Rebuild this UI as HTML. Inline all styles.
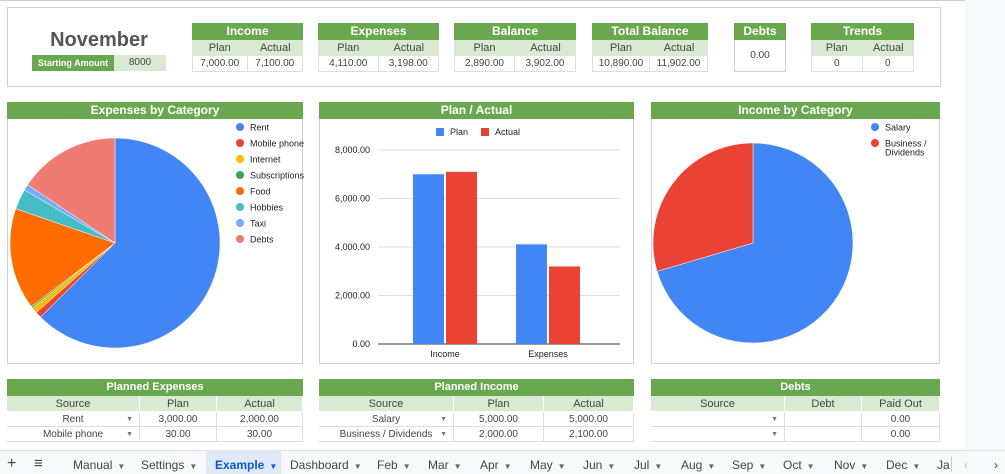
<!DOCTYPE html>
<html><head><meta charset="utf-8">
<style>
*{box-sizing:border-box;margin:0;padding:0}
body{width:1005px;height:474px;overflow:hidden;background:#fff;font-family:"Liberation Sans",Arial,sans-serif;position:relative;color:#333}
.abs{position:absolute}
.g{background:#6aa84f;color:#fff;font-weight:bold;text-align:center}
.lg{background:#d9ead3;color:#444;text-align:center}
.c{position:absolute;display:flex;align-items:center;justify-content:center;font-size:10px;color:#444;border-right:1px solid #ddd;border-bottom:1px solid #ddd}
.box{position:absolute;border:1px solid #d0d0d0}
.tab{position:absolute;top:458px;font-size:12px;color:#444}
.arr{font-size:8px;color:#666;margin-left:5px}
</style></head><body>
<div class="abs" style="left:0;top:0;width:965px;height:1px;background:#ccc"></div>
<div class="abs" style="left:965px;top:0;width:40px;height:450px;background:#f8f9fa"></div>
<div class="box" style="left:7px;top:7px;width:934px;height:80px"></div>
<div class="abs" style="left:32px;top:29px;width:134px;text-align:center;font-size:20px;font-weight:bold;color:#555">November</div>
<div class="abs g" style="left:32px;top:55px;width:82px;height:16px;font-size:9px;line-height:16px">Starting Amount</div>
<div class="abs lg" style="left:114px;top:55px;width:52px;height:16px;font-size:10px;line-height:16px">8000</div>
<div id="sum"></div>
<div id="charts"></div>
<div id="tables"></div>
<div class="abs" style="left:0;top:450px;width:1005px;height:24px;background:#f8f9fa;border-top:1px solid #e0e0e0"></div>
<div class="abs" style="left:206px;top:451px;width:75px;height:23px;background:#e1e9f7"></div>
<div id="tabs"></div>
<script>
function mk(parent,cls,name,inter,css,txt){const d=document.createElement('div');d.className=cls;d.setAttribute('style',css);if(txt!==undefined)d.textContent=txt;


parent.appendChild(d);return d;}
const sum=document.getElementById('sum');
const summaryTitles=['Income','Expenses','Balance','Total Balance','Trends'];
const summaryPlan=['7,000.00','4,110.00','2,890.00','10,890.00','0'];
const summaryActual=['7,100.00','3,198.00','3,902.00','11,902.00','0'];
const sx=[192,318,454,592,811],sw=[111,121,122,116,103];
summaryTitles.forEach((t,i)=>{const x=sx[i],w=sw[i],h=w/2;
mk(sum,'abs box','summary-'+t.toLowerCase().replace(' ','-')+'-box','false',`left:${x}px;top:23px;width:${w}px;height:49px`);
mk(sum,'abs g','summary-header','false',`left:${x}px;top:23px;width:${w}px;height:17px;font-size:12px;line-height:17px`,t);
mk(sum,'abs lg','plan-label','false',`left:${x}px;top:40px;width:${h}px;height:16px;font-size:11px;line-height:16px`,'Plan');
mk(sum,'abs lg','actual-label','false',`left:${x+h}px;top:40px;width:${h}px;height:16px;font-size:11px;line-height:16px`,'Actual');
mk(sum,'c','plan-value','false',`left:${x}px;top:56px;width:${h}px;height:16px;border-left:1px solid #ddd`,summaryPlan[i]);
mk(sum,'c','actual-value','false',`left:${x+h}px;top:56px;width:${h}px;height:16px`,summaryActual[i]);});
mk(sum,'abs box','debts-summary-box','false','left:734px;top:23px;width:52px;height:49px');
mk(sum,'abs g','debts-summary-header','false','left:734px;top:23px;width:52px;height:17px;font-size:12px;line-height:17px','Debts');
mk(sum,'abs','debts-summary-value','false','left:734px;top:50px;width:52px;text-align:center;font-size:10px;color:#444','0.00');

const ch=document.getElementById('charts');
const panels=[[7,296,'Expenses by Category'],[319,315,'Plan / Actual'],[651,289,'Income by Category']];
panels.forEach(p=>{mk(ch,'box','chart-panel','false',`left:${p[0]}px;top:102px;width:${p[1]}px;height:262px`);
mk(ch,'abs g','chart-title','false',`left:${p[0]}px;top:102px;width:${p[1]}px;height:17px;font-size:12px;line-height:17px`,p[2]);});
</script>
<svg class="abs" style="left:0;top:0" width="1005" height="474" id="svg"></svg>
<script>
const expCats=['Rent','Mobile phone','Internet','Subscriptions','Food','Hobbies','Taxi','Debts'];
const expVals=[2000,30,30,8,500,100,30,500];
const expColors=['#4285f4','#ea4335','#fbbc04','#34a853','#ff6d01','#46bdc6','#7baaf7','#f07b72'];
const incCats=['Salary','Business / Dividends'];
const incVals=[5000,2100];
const incColors=['#4285f4','#ea4335'];
const barCats=['Income','Expenses'];
const planVals=[7000,4110];
const actualVals=[7100,3198];
const yTicks=[0,2000,4000,6000,8000];
const yTickLabels=['0.00','2,000.00','4,000.00','6,000.00','8,000.00'];
const NS='http://www.w3.org/2000/svg';const svg=document.getElementById('svg');
function el(tag,attrs,txt){const e=document.createElementNS(NS,tag);for(const k in attrs)e.setAttribute(k,attrs[k]);if(txt!==undefined)e.textContent=txt;svg.appendChild(e);return e;}
function pie(cx,cy,r,vals,cols,name){const tot=vals.reduce((a,b)=>a+b,0);let a=0;
vals.forEach((v,i)=>{const a0=a/tot*2*Math.PI,a1=(a+v)/tot*2*Math.PI;a+=v;
const x0=cx+r*Math.sin(a0),y0=cy-r*Math.cos(a0),x1=cx+r*Math.sin(a1),y1=cy-r*Math.cos(a1);
const p=el('path',{d:`M${cx},${cy}L${x0},${y0}A${r},${r} 0 ${a1-a0>Math.PI?1:0} 1 ${x1},${y1}Z`,fill:cols[i],stroke:'#fff','stroke-width':0.5});

});}
function legend(x,y,cats,cols,step){cats.forEach((c,i)=>{const cc=el('circle',{cx:x,cy:y+i*step,r:4,fill:cols[i]});


const lines=c==='Business / Dividends'?['Business /','Dividends']:[c];
lines.forEach((l,j)=>{const t=el('text',{x:x+10,y:y+i*step+3.5+j*9,'font-size':9,fill:'#222'},l);

});});}
pie(115,243,105,expVals,expColors,'expense');
legend(240,127,expCats,expColors,16);
pie(753,243,100,incVals,incColors,'income');
legend(875,127,incCats,incColors,16);
const y0=344,yTop=150,yMax=8000;const ys=v=>y0-(v/yMax)*(y0-yTop);
yTicks.forEach((t,i)=>{const gl=el('line',{x1:378,x2:620,y1:ys(t),y2:ys(t),stroke:i===0?'#333':'#ddd','stroke-width':1});


const tl=el('text',{x:370,y:ys(t)+3,'font-size':9,'text-anchor':'end',fill:'#222'},yTickLabels[i]);

});
const groupC=[445,548],bw=31;
barCats.forEach((c,i)=>{const gx=groupC[i];
const b1=el('rect',{x:gx-bw-1,y:ys(planVals[i]),width:bw,height:y0-ys(planVals[i]),fill:'#4285f4'});


const b2=el('rect',{x:gx+1,y:ys(actualVals[i]),width:bw,height:y0-ys(actualVals[i]),fill:'#ea4335'});


const xl=el('text',{x:gx,y:357,'font-size':9,'text-anchor':'middle',fill:'#222'},c);

});
[['Plan','#4285f4',436],['Actual','#ea4335',481]].forEach(l=>{const r=el('rect',{x:l[2],y:128,width:8,height:8,fill:l[1]});


const t=el('text',{x:l[2]+14,y:135,'font-size':9,fill:'#222'},l[0]);

});

const tb=document.getElementById('tables');
const tables=[
 {x:7,title:'Planned Expenses',cols:[[7,133],[140,77],[217,86]],head:['Source','Plan','Actual'],rows:[['Rent','3,000.00','2,000.00'],['Mobile phone','30.00','30.00']]},
 {x:319,title:'Planned Income',cols:[[319,135],[454,90],[544,90]],head:['Source','Plan','Actual'],rows:[['Salary','5,000.00','5,000.00'],['Business / Dividends','2,000.00','2,100.00']]},
 {x:651,title:'Debts',cols:[[651,134],[785,77],[862,78]],head:['Source','Debt','Paid Out'],rows:[['','','0.00'],['','','0.00']]}];
tables.forEach(t=>{const w=t.cols[2][0]+t.cols[2][1]-t.x;
mk(tb,'abs g','table-title','false',`left:${t.x}px;top:379px;width:${w}px;height:17px;font-size:11px;line-height:17px`,t.title);
t.cols.forEach((c,j)=>{mk(tb,'c lg','column-header','false',`left:${c[0]}px;top:396px;width:${c[1]}px;height:16px;font-size:11px;border-color:#fff`,t.head[j]);
t.rows.forEach((r,k)=>{const d=mk(tb,'c','table-cell','true',`left:${c[0]}px;top:${412+k*15}px;width:${c[1]}px;height:15px`,r[j]);
if(j===0){mk(d,'abs','dropdown-arrow','true','right:6px;top:4px;font-size:7px;color:#777','▼');}});});});

const tabsEl=document.getElementById('tabs');
const tabNames=['Manual','Settings','Example','Dashboard','Feb','Mar','Apr','May','Jun','Jul','Aug','Sep','Oct','Nov','Dec'];
const tabX=[73,141,215,290,377,428,480,530,583,634,681,732,783,834,886];
mk(tabsEl,'tab','add-sheet-button','true','left:7px;top:455px;font-size:16px','+');
mk(tabsEl,'tab','all-sheets-button','true','left:34px;top:455px;font-size:15px','≡');
tabNames.forEach((n,i)=>{const t=mk(tabsEl,'tab','sheet-tab-'+n.toLowerCase(),'true',`left:${tabX[i]}px;${n==='Example'?'color:#0b57d0;font-weight:600;':''}`,n);
const a=document.createElement('span');a.className='arr';a.textContent='▼';if(n==='Example')a.style.color='#0b57d0';


t.appendChild(a);});
mk(tabsEl,'tab','sheet-tab-jan','true','left:937px','Ja');
mk(tabsEl,'abs','tab-separator','false','left:951px;top:456px;width:1px;height:16px;background:#ccc');
mk(tabsEl,'tab','scroll-left-button','true','left:964px;color:#bbb','‹');
mk(tabsEl,'tab','scroll-right-button','true','left:994px','›');
</script>
</body></html>
